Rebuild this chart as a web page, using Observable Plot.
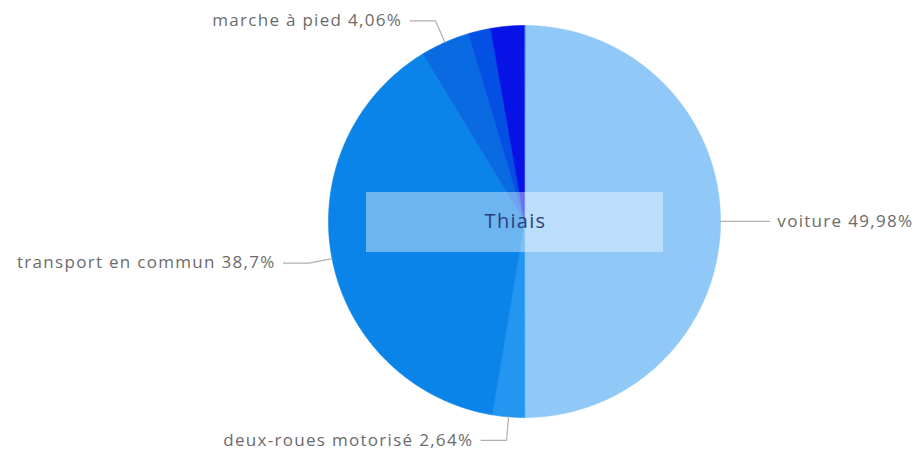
<!DOCTYPE html>
<html>
<head>
<meta charset="utf-8">
<script src="https://cdn.jsdelivr.net/npm/d3@7"></script>
<script src="https://cdn.jsdelivr.net/npm/@observablehq/plot@0.6"></script>
<style>
  html, body { margin: 0; padding: 0; background: #ffffff; }
  #chart svg { display: block; }
</style>
</head>
<body>
<div id="chart"></div>
<script>
// ---- data ----
const modes = ["voiture", "deux-roues motorisé", "transport en commun", "marche à pied", "vélo", "pas de transport"];
const shares = [49.98, 2.64, 38.7, 4.06, 1.85, 2.77];
const colors = ["#90c8f8", "#2496f2", "#0a84e8", "#0a6ae2", "#0550e4", "#0612e6"];
const showLabel = [true, true, true, true, false, false];
const centerLabel = "Thiais";

// ---- layout ----
const W = 918, H = 455, cx = 524, cy = 221, R = 196;
const total = d3.sum(shares);
const slices = [];
let acc = 0;
shares.forEach((v, i) => {
  const a0 = acc / total * 2 * Math.PI;
  acc += v;
  const a1 = acc / total * 2 * Math.PI;
  slices.push({name: modes[i], value: v, a0, a1, mid: (a0 + a1) / 2, show: showLabel[i]});
});

// polygon points for each slice (unit radius, y up, clockwise from top)
const polys = [];
for (const s of slices) {
  polys.push({name: s.name, x: 0, y: 0});
  const n = Math.max(2, Math.ceil((s.a1 - s.a0) / (Math.PI / 360)));
  for (let k = 0; k <= n; k++) {
    const a = s.a0 + (s.a1 - s.a0) * k / n;
    polys.push({name: s.name, x: Math.sin(a), y: Math.cos(a)});
  }
}

const fmt = v => String(v).replace(".", ",") + "%";
const leaders = [];
const labels = [];
for (const s of slices.filter(d => d.show)) {
  const ux = Math.sin(s.mid), uy = Math.cos(s.mid);
  const side = ux >= 0 ? 1 : -1;
  const p1 = {x: ux * 1.0, y: uy * 1.0};
  const p2 = {x: ux * 1.12, y: uy * 1.12};
  const p3 = {x: p2.x + side * 0.13, y: p2.y};
  leaders.push({name: s.name, ...p1}, {name: s.name, ...p2}, {name: s.name, ...p3});
  labels.push({text: s.name + " " + fmt(s.value), x: p3.x + side * 0.04, y: p3.y, side});
}

const chart = Plot.plot({
  width: W,
  height: H,
  margin: 0,
  style: {background: "#ffffff", fontFamily: "'Open Sans', sans-serif", letterSpacing: "1.3px"},
  x: {domain: [-cx / R, (W - cx) / R], axis: null},
  y: {domain: [-(H - cy) / R, cy / R], axis: null},
  color: {domain: modes, range: colors},
  marks: [
    Plot.line(polys, {x: "x", y: "y", z: "name", fill: "name", stroke: "name", strokeWidth: 0.6, curve: "linear-closed"}),
    Plot.rect([{}], {x1: -158 / R, x2: 139 / R, y1: -31 / R, y2: 29 / R, fill: "#ffffff", fillOpacity: 0.4}),
    Plot.text([centerLabel], {x: 0, y: 0, dx: -9, text: d => d, fill: "#2b3f80", fontSize: 20}),
    Plot.line(leaders, {x: "x", y: "y", z: "name", stroke: "#b0b0b0", strokeWidth: 1.2}),
    Plot.text(labels.filter(d => d.side > 0), {x: "x", y: "y", text: "text", textAnchor: "start", fill: "#6b6b6b", fontSize: 17}),
    Plot.text(labels.filter(d => d.side < 0), {x: "x", y: "y", text: "text", textAnchor: "end", fill: "#6b6b6b", fontSize: 17})
  ]
});
document.getElementById("chart").append(chart);
</script>
</body>
</html>
